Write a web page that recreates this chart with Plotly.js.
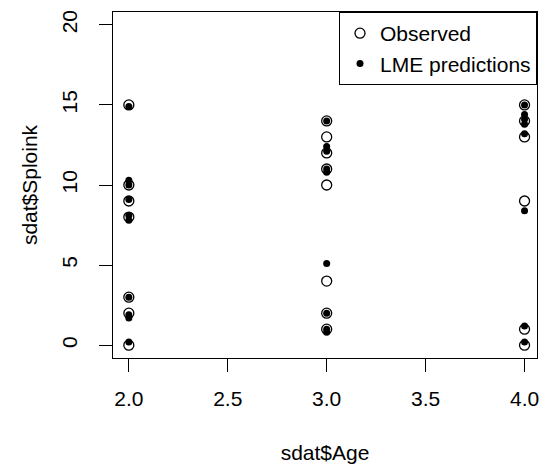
<!DOCTYPE html>
<html>
<head>
<meta charset="utf-8">
<script src="https://cdn.plot.ly/plotly-3.0.1.min.js"></script>
<style>
html,body{margin:0;padding:0;background:#fff;}
#chart{width:540px;height:465px;}
</style>
</head>
<body>
<div id="chart"></div>
<script>
// Observed values
var ageObs = [2, 2, 2, 2, 2, 2, 2,
              3, 3, 3, 3, 3, 3, 3, 3,
              4, 4, 4, 4, 4, 4];
var sploinkObs = [15, 10, 9, 8, 3, 2, 0,
                  14, 13, 12, 11, 10, 4, 2, 1,
                  15, 14, 13, 9, 1, 0];
// LME predictions
var agePred = [2, 2, 2, 2, 2, 2, 2, 2, 2, 2,
               3, 3, 3, 3, 3, 3, 3, 3, 3,
               4, 4, 4, 4, 4, 4, 4, 4];
var sploinkPred = [14.9, 10.3, 10.0, 9.1, 8.1, 7.8, 3.0, 1.9, 1.7, 0.2,
                   14.0, 12.4, 12.1, 11.0, 10.8, 5.1, 2.0, 1.0, 0.8,
                   15.0, 14.4, 14.1, 13.8, 13.2, 8.4, 1.2, 0.2];
var xTicks = [2.0, 2.5, 3.0, 3.5, 4.0];
var xTickText = ["2.0", "2.5", "3.0", "3.5", "4.0"];
var yTicks = [0, 5, 10, 15, 20];

var FONT = "Liberation Sans, Arial, sans-serif";

var traces = [
  {
    x: ageObs, y: sploinkObs, type: "scatter", mode: "markers",
    name: "Observed",
    marker: {symbol: "circle-open", size: 10, color: "#000", line: {width: 1.3, color: "#000"}}
  },
  {
    x: agePred, y: sploinkPred, type: "scatter", mode: "markers",
    name: "LME predictions",
    marker: {symbol: "circle", size: 7, color: "#000"}
  }
];

var axisCommon = {
  showgrid: false, zeroline: false,
  showline: true, mirror: true, linecolor: "#000", linewidth: 1,
  ticks: "outside", ticklen: 13, tickcolor: "#000", tickwidth: 1,
  tickfont: {family: FONT, size: 21, color: "#000"}
};

var layout = {
  width: 540, height: 465,
  paper_bgcolor: "#fff", plot_bgcolor: "#fff",
  margin: {l: 113, r: 3, t: 12, b: 107},
  font: {family: FONT, size: 21, color: "#000"},
  showlegend: true,
  xaxis: Object.assign({}, axisCommon, {
    range: [1.92, 4.063],
    tickvals: xTicks, ticktext: xTickText,
    ticklabelstandoff: 9,
    title: {text: "sdat$Age", font: {family: FONT, size: 21, color: "#000"}, standoff: 36}
  }),
  yaxis: Object.assign({}, axisCommon, {
    range: [-0.8, 20.8],
    tickvals: yTicks,
    tickangle: -90,
    ticklabelstandoff: 14,
    title: {text: "sdat$Sploink", font: {family: FONT, size: 21, color: "#000"}, standoff: 14}
  }),
  legend: {
    x: 1, xanchor: "right", y: 1, yanchor: "top",
    bordercolor: "#000", borderwidth: 1, bgcolor: "#fff",
    font: {family: FONT, size: 21, color: "#000"},
    tracegroupgap: 0
  }
};

Plotly.newPlot("chart", traces, layout, {staticPlot: true, displayModeBar: false});
</script>
</body>
</html>
